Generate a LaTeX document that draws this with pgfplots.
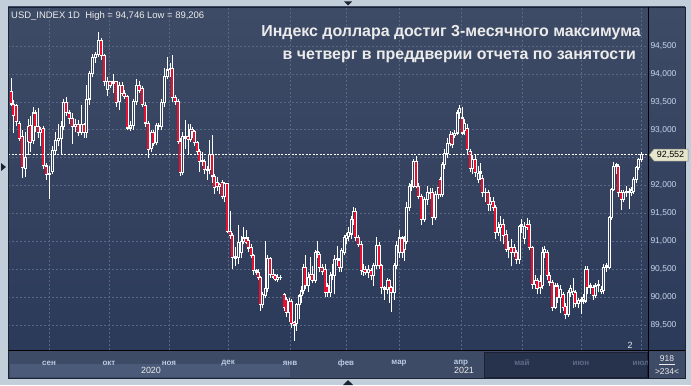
\documentclass[border=0pt]{standalone}
\usepackage{pgfplots}
\pgfplotsset{compat=1.18}
\usepackage{pgfplotstable}
\usepackage{fontspec}
\setmainfont{Liberation Sans}
\definecolor{bgtop}{HTML}{3E4B66}
\definecolor{bgbot}{HTML}{2C3A5A}
\definecolor{outerc}{HTML}{C3CEDB}
\definecolor{gridc}{HTML}{5A6882}
\definecolor{candred}{HTML}{E8102E}
\definecolor{innerc}{HTML}{33415F}
\definecolor{ticklab}{HTML}{C8D6EE}
\definecolor{monthc}{HTML}{BCCBE3}
\definecolor{dimlab}{HTML}{5D6D8A}
\definecolor{datebg}{HTML}{3E4B67}
\definecolor{yearbg}{HTML}{4A5A78}
\definecolor{darkbox}{HTML}{27324C}
\definecolor{titlec}{HTML}{EBEBEB}
\definecolor{tagc}{HTML}{E6E6CC}
\definecolor{framec}{HTML}{1C2233}

\pgfplotstableread{
x o h l c
11 93.68 93.92 93.42 93.46
13 93.46 93.53 92.94 93.25
16 93.43 93.46 93.06 93.15
19 93.11 93.15 92.80 92.85
22 92.88 92.99 92.14 92.33
25 92.30 92.95 92.15 92.50
28 92.78 93.20 92.55 93.06
30 93.07 93.25 92.60 92.77
33 92.80 93.40 92.75 93.30
35 93.30 93.35 92.95 93.05
38 93.05 93.38 92.85 92.95
40 92.95 93.05 92.70 93.00
43 93.03 93.06 92.30 92.35
46 92.35 92.40 92.10 92.20
49 92.20 92.35 91.75 92.22
52 92.25 92.70 92.20 92.62
55 92.62 92.95 92.55 92.80
58 92.80 93.10 92.70 92.85
61 92.85 93.15 92.55 93.05
63 93.05 93.55 93.00 93.48
66 93.48 93.58 93.25 93.30
69 93.30 93.35 93.10 93.20
72 93.20 93.30 92.75 93.05
75 93.05 93.20 92.95 93.10
78 93.10 93.18 92.88 92.95
81 92.95 93.45 92.90 93.10
84 93.10 93.12 92.85 92.95
86 92.95 93.80 92.85 93.55
89 93.55 94.05 93.45 94.00
92 94.00 94.35 93.95 94.30
95 94.30 94.40 94.20 94.35
98 94.35 94.75 94.30 94.60
101 94.60 94.65 94.25 94.33
104 94.33 94.35 93.78 93.86
107 93.72 93.95 93.60 93.86
110 93.86 93.88 93.75 93.80
113 93.83 94.00 93.65 93.86
116 93.86 93.88 93.40 93.48
119 93.50 93.85 93.35 93.80
122 93.80 93.85 93.60 93.65
124 93.65 93.72 93.55 93.60
127 93.60 93.62 93.00 93.03
130 93.03 93.15 92.98 93.07
133 93.07 93.55 93.00 93.50
136 93.50 93.90 93.45 93.80
139 93.80 93.88 93.65 93.71
142 93.74 93.78 93.40 93.45
145 93.43 93.50 93.05 93.12
148 93.12 93.15 92.49 92.65
151 92.67 93.00 92.60 92.95
153 92.95 93.00 92.70 92.75
156 92.77 93.12 92.72 93.07
158 93.06 93.12 93.00 93.08
161 93.06 93.55 93.00 93.48
164 93.48 94.10 93.40 93.95
167 93.95 94.31 93.90 94.07
170 94.07 94.20 93.95 94.10
172 94.10 94.34 93.50 93.57
175 93.57 93.62 93.45 93.51
178 93.51 93.55 92.75 92.79
180 92.79 92.85 92.17 92.23
182 92.23 92.95 92.18 92.88
185 92.85 93.18 92.65 92.88
188 92.88 93.10 92.55 92.82
190 92.82 93.10 92.78 93.01
192 93.01 93.05 92.85 92.97
194 92.97 93.00 92.70 92.77
197 92.77 92.80 92.55 92.61
199 92.61 92.65 92.25 92.43
202 92.43 92.60 92.35 92.45
204 92.43 92.48 92.20 92.28
207 92.28 92.35 92.10 92.27
209 92.28 92.82 92.20 92.56
212 92.56 92.90 92.05 92.17
214 92.17 92.20 91.85 91.96
217 92.05 92.15 91.90 91.98
219 91.98 92.05 91.85 92.02
222 92.05 92.10 91.75 91.81
224 91.81 92.06 91.70 92.03
227 92.03 92.05 91.15 91.18
230 91.18 91.55 91.05 91.11
232 91.11 91.15 90.50 90.71
235 90.70 90.90 90.55 90.73
238 90.71 91.30 90.60 90.98
241 90.80 91.10 90.70 91.00
243 91.00 91.25 90.95 91.06
246 91.06 91.20 90.95 90.98
248 91.02 91.08 90.80 90.88
251 90.89 90.95 90.70 90.74
253 90.74 90.78 90.40 90.47
256 90.47 90.50 90.40 90.44
258 90.44 90.50 90.30 90.35
260 90.35 90.38 89.75 89.86
262 89.86 90.10 89.80 90.04
265 90.02 91.00 89.98 90.16
267 90.16 90.75 90.10 90.69
270 90.69 90.72 90.35 90.41
273 90.41 90.50 90.33 90.36
275 90.38 90.42 90.28 90.31
277 90.31 90.42 90.27 90.36
280 90.35 90.40 90.30 90.36
284 90.04 90.08 89.75 89.82
286 89.96 90.00 89.65 89.73
289 89.73 89.98 89.55 89.93
291 89.93 89.96 89.45 89.52
294 89.55 89.58 89.21 89.50
296 89.52 89.90 89.40 89.86
299 89.86 90.05 89.60 90.02
301 90.02 90.20 89.90 90.11
303 90.11 90.60 90.05 90.53
305 90.53 90.75 90.15 90.20
308 90.20 90.45 90.10 90.36
310 90.36 90.72 90.30 90.40
312 90.40 90.55 90.25 90.30
315 90.30 90.85 90.25 90.80
317 90.80 91.00 90.70 90.82
319 90.77 90.80 90.45 90.53
322 90.53 90.60 90.40 90.45
325 90.50 90.60 90.00 90.08
327 90.20 90.25 90.00 90.08
330 90.08 90.45 90.00 90.38
332 90.38 90.60 90.30 90.40
334 90.38 90.75 90.05 90.67
337 90.67 90.92 90.55 90.69
339 90.65 90.70 90.45 90.53
341 90.53 90.88 90.45 90.83
344 90.80 91.12 90.75 91.07
346 91.05 91.15 90.95 91.10
348 91.09 91.25 91.00 91.15
351 91.13 91.45 91.05 91.39
353 91.39 91.62 91.30 91.54
355 91.54 91.60 91.00 91.07
358 91.07 91.12 90.90 90.95
361 90.95 91.00 90.40 90.47
363 90.45 90.60 90.38 90.50
365 90.50 90.55 90.40 90.44
368 90.44 90.58 90.35 90.50
371 90.47 90.52 90.30 90.38
373 90.38 90.62 90.20 90.56
376 90.56 91.07 90.50 90.93
379 90.93 90.98 90.50 90.56
381 90.56 90.60 90.05 90.17
384 90.17 90.20 89.95 90.14
387 90.14 90.35 90.05 90.29
389 90.29 90.32 89.90 90.17
391 90.17 90.20 89.73 90.08
394 90.08 90.62 89.95 90.56
396 90.56 91.00 90.50 90.92
399 90.80 91.20 90.70 91.06
402 91.06 91.10 90.70 90.80
404 90.85 91.10 90.65 91.00
406 91.00 91.70 90.95 91.60
409 91.60 92.05 91.55 91.99
411 91.99 92.10 91.90 92.02
413 91.99 92.48 91.95 92.43
416 92.43 92.53 91.95 91.99
418 91.99 92.05 91.75 91.81
421 91.81 91.85 91.30 91.39
424 91.39 91.80 91.35 91.75
427 91.75 92.00 91.65 91.87
430 91.86 91.95 91.75 91.88
432 91.88 91.95 91.30 91.42
435 91.42 91.90 91.38 91.84
438 91.84 91.98 91.75 91.96
440 92.11 92.15 91.80 91.84
442 91.84 92.42 91.80 92.37
444 92.37 92.65 92.30 92.58
447 92.58 92.85 92.50 92.76
450 92.76 92.98 92.70 92.91
452 92.91 92.95 92.68 92.73
454 92.90 93.00 92.85 92.94
457 92.94 93.35 92.90 93.30
459 93.30 93.45 93.20 93.38
462 93.21 93.40 92.90 92.94
464 92.98 93.20 92.90 93.12
467 93.03 93.10 92.55 92.64
470 92.61 92.65 92.25 92.31
472 92.31 92.55 92.20 92.46
475 92.46 92.55 92.15 92.23
478 92.11 92.35 92.05 92.22
480 92.22 92.40 92.10 92.25
482 92.12 92.18 91.80 91.87
485 91.87 91.95 91.70 91.88
488 91.87 91.92 91.55 91.66
490 91.66 91.80 91.55 91.72
493 91.72 91.80 91.55 91.60
495 91.60 91.65 91.05 91.15
498 91.15 91.35 91.10 91.24
500 91.24 91.45 91.00 91.30
503 91.30 91.40 90.95 91.10
506 91.12 91.20 90.80 90.86
508 90.86 91.00 90.70 90.89
511 90.89 91.05 90.55 90.80
514 90.89 90.95 90.72 90.80
516 90.80 90.85 90.60 90.68
519 90.68 91.30 90.60 91.27
521 91.27 91.40 91.15 91.30
524 91.05 91.35 90.95 91.27
527 91.30 91.42 91.20 91.25
529 91.30 91.38 90.85 90.89
532 90.89 90.92 90.15 90.23
535 90.23 90.40 90.15 90.30
537 90.30 90.35 90.05 90.16
540 90.28 90.40 90.05 90.17
542 90.20 90.90 90.15 90.80
544 90.80 90.92 90.70 90.85
547 90.80 90.85 90.30 90.39
549 90.39 90.45 90.20 90.27
552 90.26 90.30 89.75 89.82
555 89.82 90.25 89.78 90.20
557 90.20 90.25 89.90 90.00
560 90.00 90.22 89.72 90.14
563 90.05 90.10 89.75 89.82
565 89.84 89.90 89.60 89.69
568 89.69 90.12 89.65 90.08
570 90.08 90.22 90.00 90.16
573 90.05 90.35 89.80 90.10
575 90.08 90.12 89.82 89.88
578 89.88 89.98 89.80 89.94
581 89.92 90.00 89.70 89.95
583 89.95 90.05 89.88 90.00
585 89.93 90.55 89.90 90.50
587 90.50 90.55 90.05 90.17
590 90.17 90.25 90.05 90.20
593 90.17 90.22 89.95 90.02
595 90.02 90.25 89.98 90.20
598 90.20 90.30 90.10 90.22
601 90.10 90.20 90.05 90.14
603 90.11 90.60 90.05 90.53
606 90.53 90.62 90.45 90.56
609 90.53 91.45 90.50 91.42
611 91.42 91.96 91.38 91.93
613 91.93 92.43 91.90 92.34
616 92.34 92.40 92.20 92.37
618 92.34 92.38 91.80 91.87
621 91.87 91.92 91.56 91.75
623 91.75 91.92 91.70 91.87
626 91.87 92.00 91.80 91.90
629 91.87 91.95 91.58 91.90
631 91.88 91.98 91.82 91.92
633 91.90 92.15 91.85 92.11
636 92.11 92.35 92.05 92.32
638 92.32 92.50 92.28 92.46
641 92.46 92.60 92.42 92.55
}\data

\begin{document}
\begin{tikzpicture}
\begin{scope}[x=1bp,y=1bp]
\useasboundingbox (0,0) rectangle (691,385);
\fill[outerc] (0,0) rectangle (691,385);
% right price panel
\shade[top color=bgtop, bottom color=bgbot] (648,35) rectangle (685,378);
% bottom date panel
\fill[datebg] (8,7) rectangle (648,35);
\fill[yearbg] (10,8) rectangle (290,21);
\fill[darkbox] (484,8) rectangle (647,33);
\draw[framec, line width=0.6] (484,8) rectangle (647,33);
% bottom right box
\fill[datebg] (648,7) rectangle (685,35);
\end{scope}

\begin{axis}[
  at={(8bp,35bp)}, anchor=south west,
  scale only axis, width=640bp, height=343bp,
  xmin=8, xmax=648, ymin=89.052, ymax=95.199,
  axis background/.style={shade, top color=bgtop, bottom color=bgbot},
  axis line style={draw=black, line width=0.8bp},
  xtick={49,109,169,228,290,346,399,461,522,581,641},
  xticklabels={сен,окт,ноя,дек,янв,фев,мар,апр,\textcolor{dimlab}{май},\textcolor{dimlab}{июн},\textcolor{dimlab}{июл}},
  x tick label style={font=\bfseries\fontsize{8}{9}\selectfont, text=monthc, anchor=center, yshift=-13bp},
  ytick={89.5,90,90.5,91,91.5,92,92.5,93,93.5,94,94.5},
  yticklabels={{89,500},{90,000},{90,500},{91,000},{91,500},{92,000},{},{93,000},{93,500},{94,000},{94,500}},
  yticklabel pos=right,
  y tick label style={font=\fontsize{8.5}{10}\selectfont, text=ticklab, anchor=west, xshift=-1bp},
  major tick length=0pt,
  grid=major,
  grid style={gridc, dash pattern=on 2bp off 2bp, line width=0.6bp},
]
% wicks
\addplot[draw=none, mark=none, forget plot,
  error bars/.cd, y dir=plus, y explicit, error mark=none,
  error bar style={draw=white, solid, line width=1bp}]
  table[x=x, y=l, y error plus expr={\thisrow{h}-\thisrow{l}}] {\data};
% bodies (white outline)
\addplot[draw=none, mark=none, forget plot,
  error bars/.cd, y dir=plus, y explicit, error mark=none,
  error bar style={draw=white, solid, line width=3bp}]
  table[x=x, y expr={min(\thisrow{o},\thisrow{c})-0.009}, y error plus expr={abs(\thisrow{c}-\thisrow{o})+0.018}] {\data};
% hollow interior of rising candles
\addplot[draw=none, mark=none, forget plot,
  restrict expr to domain={\thisrow{c}-\thisrow{o}}{0.04:100},
  error bars/.cd, y dir=plus, y explicit, error mark=none,
  error bar style={draw=innerc, solid, line width=1bp}]
  table[x=x, y expr={\thisrow{o}+0.010}, y error plus expr={\thisrow{c}-\thisrow{o}-0.020}] {\data};
% red interior of falling candles
\addplot[draw=none, mark=none, forget plot,
  restrict expr to domain={\thisrow{o}-\thisrow{c}}{0.04:100},
  error bars/.cd, y dir=plus, y explicit, error mark=none,
  error bar style={draw=candred, solid, line width=1.2bp}]
  table[x=x, y expr={\thisrow{c}+0.010}, y error plus expr={\thisrow{o}-\thisrow{c}-0.020}] {\data};
% last price line
\addplot[white, dash pattern=on 2bp off 1.5bp, line width=0.6bp, forget plot] coordinates {(8,92.552) (648,92.552)};
\end{axis}

\begin{scope}[x=1bp,y=1bp]
% frame
\draw[framec, line width=0.8] (8,7) rectangle (685,378);
\draw[black, line width=0.8] (648,7) -- (648,378);
\draw[black, line width=0.8] (8,35) -- (685,35);
% title
\node[anchor=base east, font=\bfseries\fontsize{16}{19}\selectfont, text=titlec, inner sep=0] at (641,349) {Индекс доллара достиг 3-месячного максимума};
\node[anchor=base east, font=\bfseries\fontsize{16}{19}\selectfont, text=titlec, inner sep=0] at (636,326) {в четверг в преддверии отчета по занятости};
% top-left info
\node[anchor=base west, font=\fontsize{9.5}{11}\selectfont, text=titlec, inner sep=0] at (11,367) {USD\_INDEX 1D\ \ High = 94,746 Low = 89,206};
% price tag
\fill[tagc] (649,230) -- (654,236) -- (688,236) -- (688,224) -- (654,224) -- cycle;
\draw[gray, line width=0.5] (649,230) -- (654,236) -- (688,236) -- (688,224) -- (654,224) -- cycle;
\node[font=\fontsize{9}{10}\selectfont, text=black, inner sep=0] at (670.5,230) {92,552};
% years
\node[font=\fontsize{9}{10}\selectfont, text=titlec, inner sep=0] at (151,15) {2020};
\node[font=\fontsize{9}{10}\selectfont, text=titlec, inner sep=0] at (464,15) {2021};
% bottom-right box
\node[font=\fontsize{8.5}{10}\selectfont, text=titlec, inner sep=0] at (667,26) {918};
\draw[titlec, line width=0.4] (659,20.5) -- (675,20.5);
\node[font=\fontsize{8.5}{10}\selectfont, text=titlec, inner sep=0] at (667,13) {>234<};
% small label
\node[font=\fontsize{9}{10}\selectfont, text=titlec, inner sep=0] at (630,40) {2};
% triangles
\fill[framec] (344,383.5) -- (352,383.5) -- (348,379.5) -- cycle;
\fill[framec] (343,0) -- (353,0) -- (348,5) -- cycle;
\fill[framec] (1,222) -- (1,214) -- (6,218) -- cycle;
\end{scope}
\end{tikzpicture}
\end{document}
